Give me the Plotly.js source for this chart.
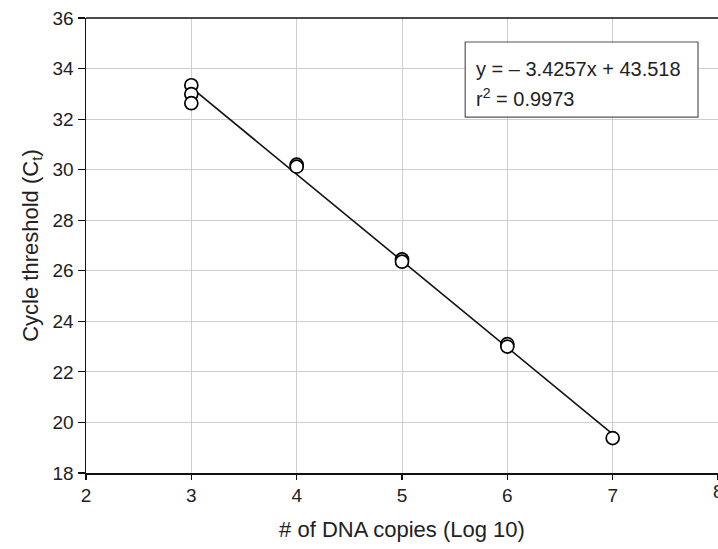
<!DOCTYPE html>
<html>
<head>
<meta charset="utf-8">
<script src="https://cdn.plot.ly/plotly-3.0.1.min.js"></script>
<style>html,body{margin:0;padding:0;background:#fff;}#chart{width:718px;height:549px;}</style>
</head>
<body>
<div id="chart"></div>
<script>
// Data
const logCopies = [3, 3, 3, 4, 4, 5, 5, 6, 6, 7];
const ctValues = [33.34, 32.99, 32.63, 30.2, 30.12, 26.45, 26.36, 23.1, 23.0, 19.38];
const fitSlope = -3.4257;
const fitIntercept = 43.518;
const fitR2 = 0.9973;
const fitRange = [3, 7];
const xTicks = [2, 3, 4, 5, 6, 7, 8];
const yTicks = [18, 20, 22, 24, 26, 28, 30, 32, 34, 36];

const fitY = fitRange.map(x => fitSlope * x + fitIntercept);
const font = 'Liberation Sans, Arial, sans-serif';
const lastX = xTicks[xTicks.length - 1];

const traces = [
  {x: fitRange, y: fitY, mode: 'lines', line: {color: '#111', width: 1.6}, hoverinfo: 'skip'},
  {x: logCopies, y: ctValues, mode: 'markers',
   marker: {symbol: 'circle', size: 13, color: '#fff', line: {color: '#000', width: 1.7}}}
];

const layout = {
  width: 718, height: 549,
  margin: {l: 86, r: 0, t: 18, b: 76},
  paper_bgcolor: '#fff', plot_bgcolor: '#fff',
  showlegend: false,
  font: {family: font, color: '#222'},
  xaxis: {
    range: [2, 8], tickvals: xTicks, ticktext: xTicks.map(String),
    showgrid: true, gridcolor: '#cfcfcf', gridwidth: 1,
    zeroline: false, showline: true, linecolor: '#111', linewidth: 1.5,
    ticks: 'outside', ticklen: 5, tickcolor: '#111', tickwidth: 1.2,
    tickfont: {size: 19, family: font, color: '#222'},
    title: {text: '# of DNA copies (Log 10)', font: {size: 22, family: font, color: '#222'}, standoff: 16}
  },
  yaxis: {
    range: [18, 36], tickvals: yTicks, ticktext: yTicks.map(String),
    showgrid: true, gridcolor: '#cfcfcf', gridwidth: 1,
    zeroline: false, showline: true, linecolor: '#111', linewidth: 1.5,
    ticks: 'outside', ticklen: 7, tickcolor: '#111', tickwidth: 1.2,
    tickfont: {size: 19, family: font, color: '#222'},
    title: {text: 'Cycle threshold (C<sub>t</sub>)', font: {size: 22, family: font, color: '#222'}, standoff: 8}
  },
  shapes: [
    {type: 'line', xref: 'paper', yref: 'paper', x0: 0, x1: 1, y0: 1, y1: 1, line: {color: '#111', width: 1.5}},
    {type: 'rect', xref: 'x', yref: 'y', x0: 5.6, x1: 7.81, y0: 32.08, y1: 35.05,
     line: {color: '#555', width: 1.2}, fillcolor: '#fff', layer: 'above'}
  ],
  annotations: [
    {xref: 'x', yref: 'y', x: 5.68, y: 34.0, xanchor: 'left', yanchor: 'middle', showarrow: false,
     text: 'y = – ' + Math.abs(fitSlope).toFixed(4) + 'x + ' + fitIntercept.toFixed(3),
     font: {size: 20, family: font, color: '#222'}},
    {xref: 'x', yref: 'y', x: 5.68, y: 32.85, xanchor: 'left', yanchor: 'middle', showarrow: false,
     text: 'r<sup>2</sup> = ' + fitR2.toFixed(4),
     font: {size: 20, family: font, color: '#222'}},
    {xref: 'x', yref: 'paper', x: lastX, y: 0, xanchor: 'center', yanchor: 'top', yshift: -6, showarrow: false,
     text: String(lastX), font: {size: 19, family: font, color: '#222'}}
  ]
};

Plotly.newPlot('chart', traces, layout, {displayModeBar: false, staticPlot: true});
</script>
</body>
</html>
